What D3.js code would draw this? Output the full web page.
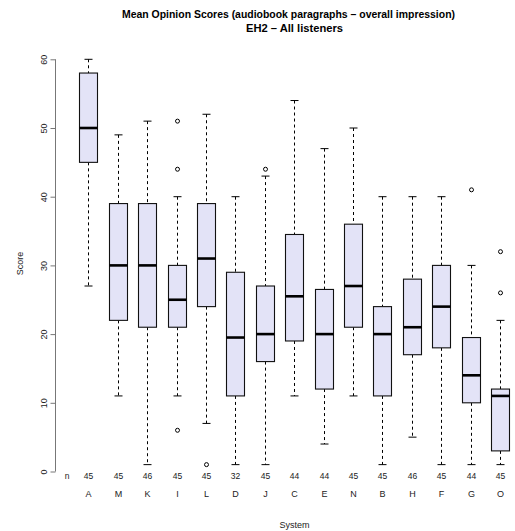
<!DOCTYPE html>
<html>
<head>
<meta charset="utf-8">
<script src="https://cdn.jsdelivr.net/npm/d3@7"></script>
<style>
  html, body { margin: 0; padding: 0; background: #fff; }
  svg { display: block; }
  text { font-family: "Liberation Sans", Arial, Helvetica, sans-serif; }
</style>
</head>
<body>
<div id="chart"></div>
<script>
// ---- data ----
const systems   = ["A","M","K","I","L","D","J","C","E","N","B","H","F","G","O"];
const counts    = [45, 45, 46, 45, 45, 32, 45, 44, 44, 45, 45, 46, 45, 44, 45];
const whiskerLo = [27, 11, 1, 11, 7, 1, 1, 11, 4, 11, 1, 5, 1, 1, 1];
const q1        = [45, 22, 21, 21, 24, 11, 16, 19, 12, 21, 11, 17, 18, 10, 3];
const medians   = [50, 30, 30, 25, 31, 19.5, 20, 25.5, 20, 27, 20, 21, 24, 14, 11];
const q3        = [58, 39, 39, 30, 39, 29, 27, 34.5, 26.5, 36, 24, 28, 30, 19.5, 12];
const whiskerHi = [60, 49, 51, 40, 52, 40, 43, 54, 47, 50, 40, 40, 40, 30, 22];
const outliers  = [[], [], [], [51, 44, 6], [1], [], [44], [], [], [], [], [], [], [41], [32, 26]];
const yTicks    = [0, 10, 20, 30, 40, 50, 60];

const W = 515, H = 531;
const svg = d3.select("#chart").append("svg")
  .attr("width", W).attr("height", H);

const x = d3.scaleLinear().domain([1, systems.length]).range([88.3, 500]);
const y = d3.scaleLinear().domain([0, 60]).range([471.5, 59.3]);

const boxW = 18, capW = 8;

// title
svg.append("text")
  .attr("x", 288.5).attr("y", 18)
  .attr("text-anchor", "middle")
  .attr("font-size", 11.5).attr("font-weight", "bold")
  .attr("textLength", 333).attr("lengthAdjust", "spacingAndGlyphs")
  .text("Mean Opinion Scores (audiobook paragraphs \u2013 overall impression)");
svg.append("text")
  .attr("x", 294.5).attr("y", 31.5)
  .attr("text-anchor", "middle")
  .attr("font-size", 11.5).attr("font-weight", "bold")
  .attr("textLength", 97).attr("lengthAdjust", "spacingAndGlyphs")
  .text("EH2 \u2013 All listeners");

// y axis
const yAxis = d3.axisLeft(y).tickValues(yTicks).tickSize(5).tickFormat(d3.format("d"));
const gy = svg.append("g").attr("transform", "translate(55.5,0)").call(yAxis);
gy.select(".domain").attr("stroke", "#777").attr("d", `M0,${y(0)}V${y(60)}`);
gy.selectAll(".tick line").attr("stroke", "#777");
gy.selectAll(".tick text")
  .attr("font-family", "Liberation Sans, Arial, sans-serif")
  .attr("font-size", 9).attr("fill", "#222")
  .attr("x", null).attr("dy", null)
  .attr("text-anchor", "middle")
  .attr("transform", "translate(-12,0) rotate(-90)")
  .attr("y", 3);

// axis titles
svg.append("text")
  .attr("transform", `translate(23,${(y(0)+y(60))/2 - 2}) rotate(-90)`)
  .attr("text-anchor", "middle").attr("font-size", 9).attr("fill", "#222")
  .text("Score");
svg.append("text")
  .attr("x", 294.5).attr("y", 528)
  .attr("text-anchor", "middle").attr("font-size", 9).attr("fill", "#222")
  .text("System");

// boxes
const g = svg.append("g");
systems.forEach((s, i) => {
  const cx = Math.round(x(i + 1)) + 0.5;
  // whiskers
  g.append("line").attr("x1", cx).attr("x2", cx)
    .attr("y1", y(whiskerHi[i])).attr("y2", y(q3[i]))
    .attr("stroke", "#000").attr("stroke-dasharray", "3,3");
  g.append("line").attr("x1", cx).attr("x2", cx)
    .attr("y1", y(q1[i])).attr("y2", y(whiskerLo[i]))
    .attr("stroke", "#000").attr("stroke-dasharray", "3,3");
  // caps
  [whiskerHi[i], whiskerLo[i]].forEach(v => {
    g.append("line").attr("x1", cx - capW/2).attr("x2", cx + capW/2)
      .attr("y1", y(v)).attr("y2", y(v)).attr("stroke", "#000");
  });
  // box
  g.append("rect")
    .attr("x", cx - boxW/2).attr("y", y(q3[i]))
    .attr("width", boxW).attr("height", y(q1[i]) - y(q3[i]))
    .attr("fill", "#e3e3f7").attr("stroke", "#111").attr("stroke-width", 1.1);
  // median
  g.append("line").attr("x1", cx - boxW/2).attr("x2", cx + boxW/2)
    .attr("y1", y(medians[i])).attr("y2", y(medians[i]))
    .attr("stroke", "#000").attr("stroke-width", 2.6);
  // outliers
  outliers[i].forEach(v => {
    g.append("circle").attr("cx", cx).attr("cy", y(v)).attr("r", 2)
      .attr("fill", "none").attr("stroke", "#000").attr("stroke-width", 1);
  });
  // n labels and category labels
  svg.append("text").attr("x", cx).attr("y", 478.5)
    .attr("text-anchor", "middle").attr("font-size", 8.5).attr("fill", "#222")
    .text(counts[i]);
  svg.append("text").attr("x", cx).attr("y", 496.5)
    .attr("text-anchor", "middle").attr("font-size", 9).attr("fill", "#222")
    .text(s);
});
svg.append("text").attr("x", 67).attr("y", 478.5)
  .attr("text-anchor", "middle").attr("font-size", 8.5).attr("fill", "#222")
  .text("n");
</script>
</body>
</html>
